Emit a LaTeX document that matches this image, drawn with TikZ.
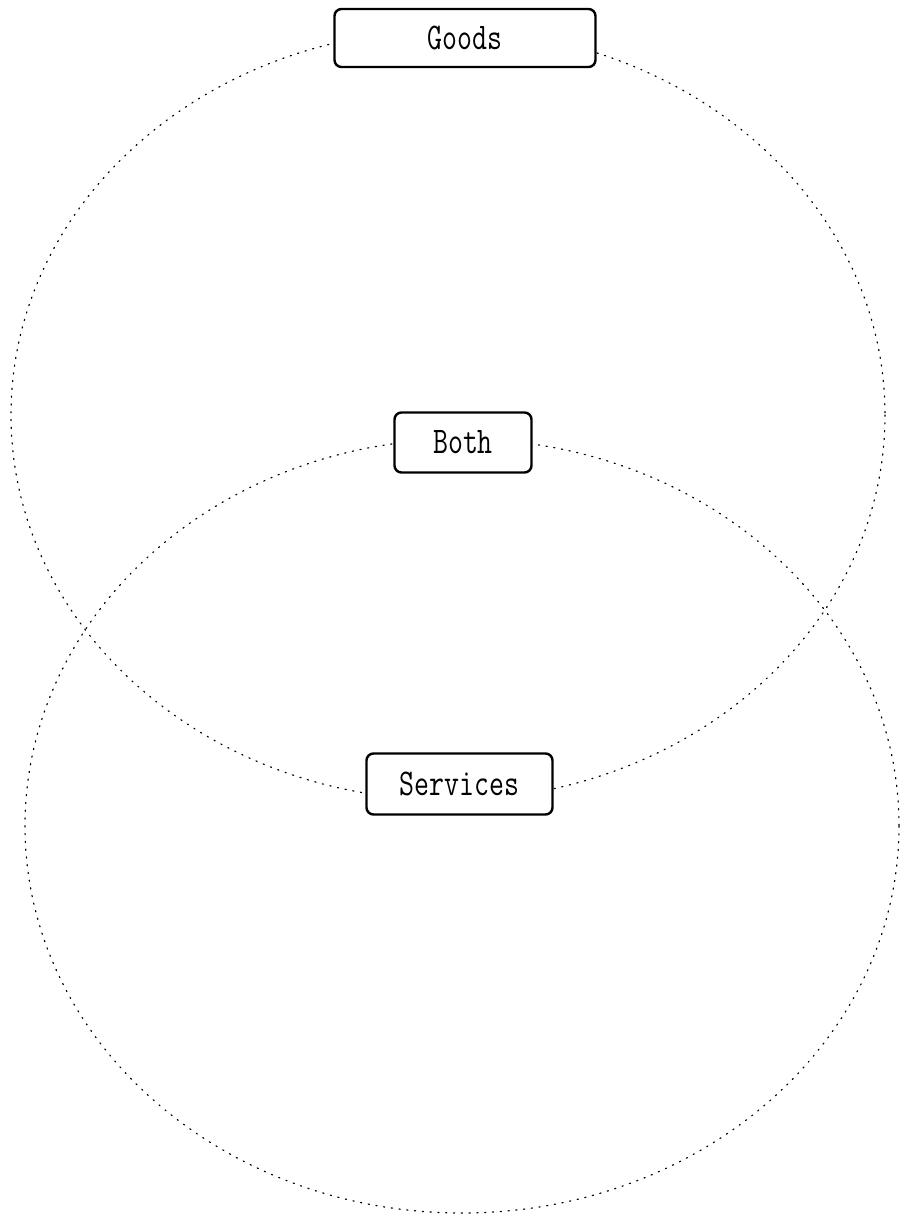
\documentclass[tikz,border=0pt]{standalone}
\begin{document}
\begin{tikzpicture}[x=1pt,y=-1pt,
  ring/.style={line width=1.2pt,dash pattern=on 1.2pt off 6.6pt,line cap=round},
  label box/.style={draw,line width=2.4pt,rounded corners=7pt,fill=white,
    font=\ttfamily\fontsize{29}{34}\selectfont,inner sep=0pt}]
\useasboundingbox (0,0) rectangle (903,1216);
\draw[ring] (448,415) ellipse [x radius=437, y radius=385];
\draw[ring] (462,826) ellipse [x radius=437, y radius=387];
\node[label box,minimum width=261pt,minimum height=58pt] (goods) at (465,38) {\scalebox{1}[1.3]{Goods}};
\node[label box,minimum width=137pt,minimum height=60pt] (both) at (463,442.5) {\scalebox{1}[1.3]{Both}};
\node[label box,minimum width=186pt,minimum height=61pt] (services) at (459.5,784) {\scalebox{1}[1.3]{Services}};
\end{tikzpicture}
\end{document}
